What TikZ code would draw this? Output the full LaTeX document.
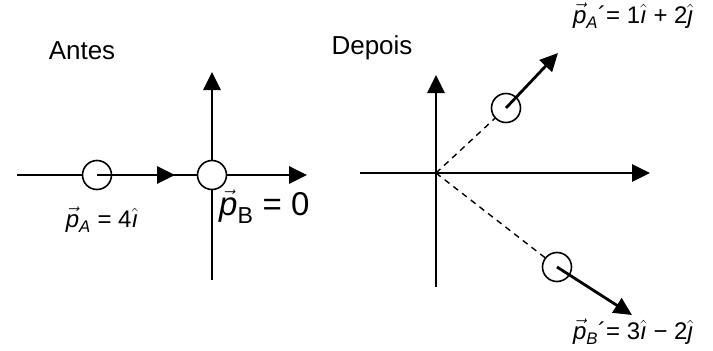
\documentclass[tikz,border=0pt]{standalone}
\usepackage{amsmath}
\usepackage{fontspec}
\setmainfont{Liberation Sans}
\usetikzlibrary{arrows.meta}

\newcommand{\pv}{\vec{\text{\itshape p}}}
\newcommand{\ih}{\hat{\text{\itshape ı}}}
\newcommand{\jh}{\hat{\text{\itshape ȷ}}}

\begin{document}
\begin{tikzpicture}[
x=1pt, y=-1pt,
axis/.style={line width=2.8pt, -{Triangle[length=18pt,width=17pt]}},
vecline/.style={line width=2.8pt, -{Triangle[length=18pt,width=17pt]}},
ball/.style={draw, circle, fill=white, line width=1.6pt, minimum size=29pt, inner sep=0pt},
track/.style={line width=1.4pt, dash pattern=on 6pt off 5pt},
lbl/.style={font=\fontsize{26}{31}\selectfont, inner sep=0pt, anchor=base},
mlbl/.style={font=\fontsize{24}{29}\selectfont, inner sep=0pt, anchor=base}
]
\useasboundingbox (0,0) rectangle (713,351);

% Antes
\coordinate (xl) at (17,175);
\coordinate (xr) at (307,175);
\coordinate (yb) at (212,280);
\coordinate (yt) at (212,72);
\draw[axis] (xl) -- (xr);
\draw[axis] (yb) -- (yt);
\node[ball] (ba) at (97,175) {};
\node[ball] (bb) at (212,175) {};
\coordinate (ta) at (175,175);
\draw[vecline] (ba.center) -- (ta);
\node[lbl] (antes) at (82,59) {Antes};
\node[mlbl] (la) at (102,227) {$\pv_{\text{\itshape A}}$ = 4$\ih$};
\node[mlbl, anchor=base west, font=\fontsize{33}{39}\selectfont] (lb) at (219,215) {$\pv_{\text{B}}$ = 0};

% Depois
\coordinate (xl2) at (360,173);
\coordinate (xr2) at (650,173);
\coordinate (yb2) at (436,287);
\coordinate (yt2) at (436,75);
\coordinate (o2) at (436,173);
\draw[axis] (xl2) -- (xr2);
\draw[axis] (yb2) -- (yt2);
\node[ball] (ba2) at (506,108) {};
\node[ball] (bb2) at (557,267) {};
\draw[track] (o2) -- (ba2);
\draw[track] (o2) -- (bb2);
\coordinate (ta2) at (558,53);
\coordinate (tb2) at (632,315);
\draw[vecline] (ba2.center) -- (ta2);
\draw[vecline] (bb2.center) -- (tb2);
\node[lbl] (depois) at (372,54) {Depois};
\node[mlbl] (la2) at (633,23) {$\pv_{\text{\itshape A}}$´= 1$\ih$ + 2$\jh$};
\node[mlbl] (lb2) at (633,339) {$\pv_{\text{\itshape B}}$´= 3$\ih$ − 2$\jh$};
\end{tikzpicture}
\end{document}
